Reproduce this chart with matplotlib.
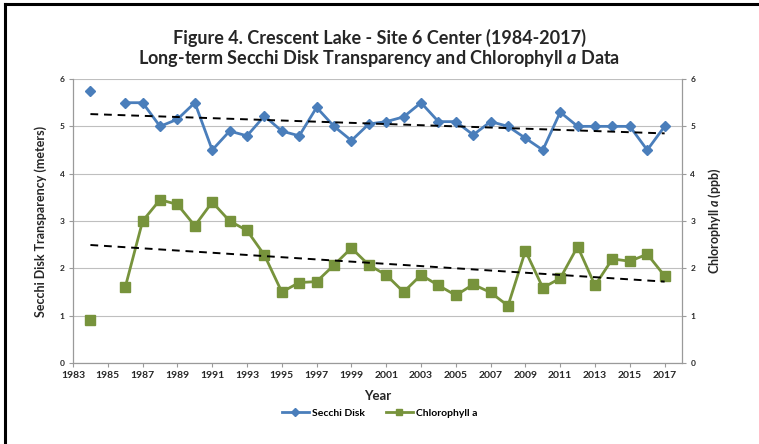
import matplotlib.pyplot as plt
import numpy as np
from matplotlib.lines import Line2D


YEARS = list(range(1984, 2018))

# 1985 was not sampled (None -> gap in the line)
SECCHI = [
    5.75, None, 5.5, 5.5, 5.0, 5.15, 5.5, 4.5, 4.9, 4.8,
    5.22, 4.9, 4.8, 5.4, 5.0, 4.7, 5.05, 5.1, 5.2, 5.5,
    5.1, 5.1, 4.82, 5.1, 5.0, 4.75, 4.5, 5.3, 5.0, 5.0,
    5.0, 5.0, 4.5, 5.0,
]

CHLOROPHYLL = [
    0.9, None, 1.6, 3.0, 3.45, 3.35, 2.9, 3.4, 3.0, 2.8,
    2.28, 1.5, 1.7, 1.72, 2.07, 2.43, 2.07, 1.86, 1.5, 1.86,
    1.64, 1.43, 1.66, 1.49, 1.21, 2.37, 1.59, 1.79, 2.46, 1.64,
    2.2, 2.15, 2.3, 1.84,
]

X_TICKS = list(range(1983, 2018, 2))
Y_TICKS = [0, 1, 2, 3, 4, 5, 6]

TITLE = "Figure 4. Crescent Lake - Site 6 Center (1984-2017)"
SUBTITLE = r"Long-term Secchi Disk Transparency and Chlorophyll $\mathit{a}$ Data"

BLUE = "#4A7EBB"
GREEN = "#77933C"
GRID = "#BFBFBF"
TEXT = "#262626"
FONT = "Lato"


def _as_array(values):
    return np.array([np.nan if v is None else v for v in values], dtype=float)


def _trend(x, y):
    mask = ~np.isnan(y)
    slope, intercept = np.polyfit(x[mask], y[mask], 1)
    xs = np.array([x[mask].min(), x[mask].max()])
    return xs, slope * xs + intercept


def main():
    plt.rcParams["font.family"] = [FONT, "DejaVu Sans"]
    plt.rcParams["mathtext.fontset"] = "custom"
    plt.rcParams["mathtext.it"] = f"{FONT}:italic:bold"
    plt.rcParams["mathtext.rm"] = f"{FONT}:bold"

    x = np.array(YEARS, dtype=float)
    secchi = _as_array(SECCHI)
    chl = _as_array(CHLOROPHYLL)

    fig = plt.figure(figsize=(7.59, 4.44), dpi=100)
    ax = fig.add_axes([0.0962, 0.1824, 0.8024, 0.6396])
    ax2 = ax.twinx()

    ax.set_xlim(1983, 2018)
    ax.set_ylim(0, 6)
    ax2.set_ylim(0, 6)
    ax.set_yticks(Y_TICKS)
    ax2.set_yticks(Y_TICKS)
    ax.set_xticks(X_TICKS)
    ax.set_xticklabels([str(t) for t in X_TICKS], fontsize=7.5, fontweight="bold", color=TEXT)
    ax.set_yticklabels([str(t) for t in Y_TICKS], fontsize=6, fontweight="bold", color=TEXT)
    ax2.set_yticklabels([str(t) for t in Y_TICKS], fontsize=6, fontweight="bold", color=TEXT)

    ax.grid(axis="y", color=GRID, linewidth=0.8)
    ax.set_axisbelow(True)
    for a in (ax, ax2):
        a.spines["top"].set_visible(False)
        for side in ("left", "right", "bottom"):
            a.spines[side].set_color("#9A9A9A")
            a.spines[side].set_linewidth(0.9)
        a.tick_params(axis="both", color="#9A9A9A", length=3, width=0.8, pad=3)
    ax.spines["right"].set_visible(False)
    ax2.spines["left"].set_visible(False)
    ax2.spines["bottom"].set_visible(False)

    ax.plot(x, secchi, color=BLUE, linewidth=2.0, marker="D", markersize=5.5,
            markeredgecolor=BLUE, zorder=3)
    tx, ty = _trend(x, secchi)
    ax.plot(tx, ty, color="black", linestyle=(0, (4, 3)), linewidth=1.4, zorder=4)

    ax2.plot(x, chl, color=GREEN, linewidth=2.0, marker="s", markersize=7,
             markeredgecolor=GREEN, zorder=3)
    tx, ty = _trend(x, chl)
    ax2.plot(tx, ty, color="black", linestyle=(0, (4, 3)), linewidth=1.4, zorder=4)

    ax.set_ylabel("Secchi Disk Transparency (meters)", fontsize=9, fontweight="bold",
                  color=TEXT, labelpad=9)
    ax2.set_ylabel(r"Chlorophyll $\mathit{a}$ (ppb)", fontsize=9, fontweight="bold",
                   color=TEXT, labelpad=8)
    ax.set_xlabel("Year", fontsize=9.5, fontweight="bold", color=TEXT, labelpad=7)

    fig.text(0.5, 0.914, TITLE, ha="center", va="center", fontsize=13, fontweight="bold", color=TEXT)
    fig.text(0.5, 0.869, SUBTITLE, ha="center", va="center", fontsize=13, fontweight="bold", color=TEXT)

    handles = [
        Line2D([0], [0], color=BLUE, linewidth=2.0, marker="D", markersize=4),
        Line2D([0], [0], color=GREEN, linewidth=2.0, marker="s", markersize=5),
    ]
    fig.legend(handles, ["Secchi Disk", "Chlorophyll a"], loc="center",
               bbox_to_anchor=(0.5, 0.07), ncol=2, frameon=False,
               handlelength=2.6, handletextpad=0.3, columnspacing=2.0,
               prop={"weight": "bold", "size": 7.5})

    # outer frame: only top and left edges are visible in the original
    fig.add_artist(Line2D([0.006, 1.0], [0.99, 0.99], color="black", linewidth=2.2,
                          transform=fig.transFigure))
    fig.add_artist(Line2D([0.006, 0.006], [0.0, 0.99], color="black", linewidth=2.2,
                          transform=fig.transFigure))

    fig.savefig("out.png", dpi=100)
    plt.close(fig)


if __name__ == "__main__":
    main()
